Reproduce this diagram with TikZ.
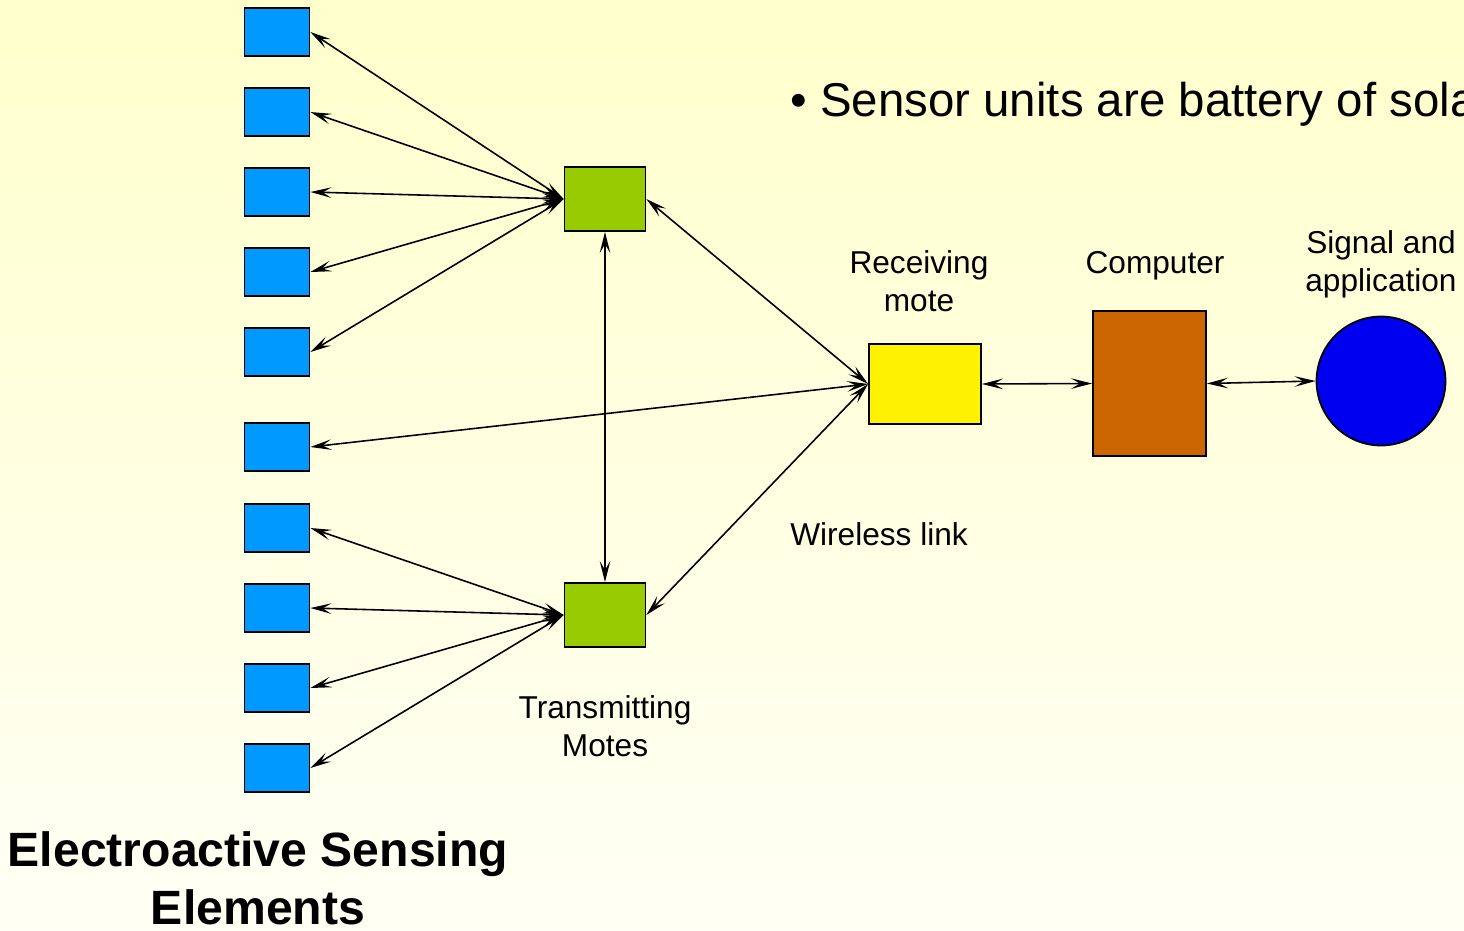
\documentclass[tikz,border=0pt]{standalone}
\usepackage{fontspec}
\setmainfont{Liberation Sans}
\usetikzlibrary{arrows.meta}

\definecolor{sensblue}{RGB}{0,153,255}
\definecolor{motegreen}{RGB}{153,204,0}
\definecolor{pcorange}{RGB}{204,102,0}
\definecolor{appblue}{RGB}{0,0,240}

\tikzset{
  elem/.style={draw, line width=1pt, fill=sensblue, inner sep=0pt, minimum width=1.3cm, minimum height=0.96cm},
  mote/.style={draw, line width=1pt, fill=motegreen, inner sep=0pt, minimum width=1.62cm, minimum height=1.28cm},
  link/.style={{Stealth[length=12pt,width=6pt,inset=5pt]}-{Stealth[length=12pt,width=6pt,inset=5pt]}, line width=0.9pt},
  lbl/.style={font=\fontsize{18}{21.5}\selectfont, align=center}
}

\begin{document}
\begin{tikzpicture}[x=0.02cm, y=-0.02cm]
    % page and background
    \useasboundingbox (0,0) rectangle (1464,930);
    \clip (0,0) rectangle (1464,930);
    \fill[top color=yellow!20, bottom color=yellow!4] (0,0) rectangle (1464,930);

    % sensing elements
    \foreach \n/\y in {1/32, 2/112, 3/192, 4/272, 5/352, 6/447, 7/528, 8/608, 9/688, 10/768}
        \node[elem] (b\n) at (277,\y) {};

    % transmitting motes
    \node[mote] (g1) at (605,199) {};
    \node[mote] (g2) at (605,615) {};

    % receiving mote, computer, application
    \node[draw, line width=1pt, fill=yellow, inner sep=0pt, minimum width=2.24cm, minimum height=1.6cm] (rx) at (925,384) {};
    \node[draw, line width=1pt, fill=pcorange, inner sep=0pt, minimum width=2.26cm, minimum height=2.9cm] (pc) at (1149.5,383.5) {};
    \node[draw, line width=1pt, fill=appblue, circle, inner sep=0pt, minimum size=2.58cm] (app) at (1381,381) {};

    % links to the sensing elements
    \foreach \n in {1,...,5}
        \draw[link] (g1.west) -- (b\n.east);
    \foreach \n in {7,...,10}
        \draw[link] (g2.west) -- (b\n.east);

    % wireless links
    \draw[link] (g1.south) -- (g2.north);
    \draw[link] (g1.east) -- (rx.west);
    \draw[link] (g2.east) -- (rx.west);
    \draw[link] (b6.east) -- (rx.west);

    % wired links
    \draw[link] (rx.east) -- (pc.west);
    \draw[link] (pc.east) -- (app.west);

    % labels
    \node[lbl] (lrx) at (919,281) {Receiving\\mote};
    \node[lbl] (lpc) at (1155,266) {Computer};
    \node[lbl] (lapp) at (1381,264) {Signal and\\application};
    \node[lbl] (lwl) at (879,534) {Wireless link};
    \node[lbl] (ltx) at (605,726) {Transmitting\\Motes};
    \node[font=\fontsize{27.4}{33}\selectfont\bfseries, align=center] (title) at (258,878) {Electroactive Sensing\\Elements};

    % note
    \node[font=\fontsize{27}{30}\selectfont, anchor=west, inner sep=0pt] (note) at (790,104) {\textbullet\ Sensor units are battery of sola};
\end{tikzpicture}
\end{document}
